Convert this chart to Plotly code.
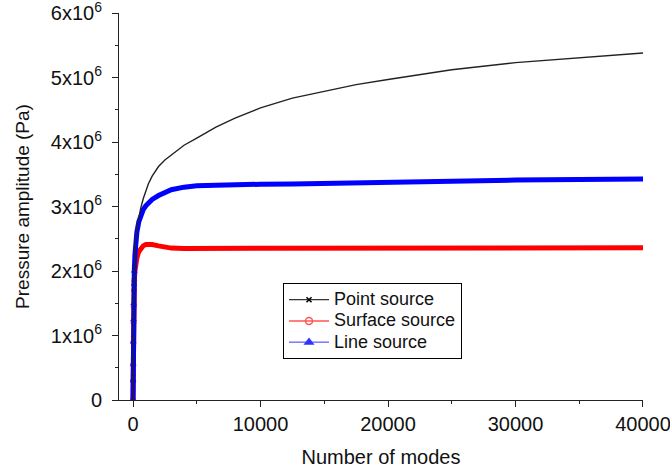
import plotly.graph_objects as go

# Number of modes (x) and pressure amplitude values (in units of 1e6 Pa)
modes = [0, 5, 10, 20, 35, 50, 75, 100, 150, 200, 300, 450, 600, 800, 1000, 1200,
         1500, 2000, 2500, 3000, 4000, 5000, 6500, 8000, 10000, 12500, 15000,
         17500, 20000, 25000, 30000, 35000, 40000]

point_source = [0, 0.35, 0.6, 0.95, 1.3, 1.55, 1.85, 2.05, 2.3, 2.48, 2.66, 2.84, 2.97,
                3.12, 3.25, 3.35, 3.47, 3.62, 3.72, 3.80, 3.95, 4.06, 4.23, 4.37, 4.53,
                4.68, 4.79, 4.89, 4.97, 5.12, 5.23, 5.31, 5.38]

surface_source = [0, 0.3, 0.55, 0.9, 1.2, 1.45, 1.7, 1.85, 2.0, 2.1, 2.2, 2.3, 2.35,
                  2.39, 2.41, 2.415, 2.41, 2.39, 2.37, 2.355, 2.35, 2.35, 2.355, 2.36,
                  2.36, 2.36, 2.36, 2.36, 2.36, 2.36, 2.36, 2.36, 2.36]

line_source = [0, 0.3, 0.55, 0.9, 1.25, 1.5, 1.8, 2.0, 2.25, 2.42, 2.6, 2.76, 2.86,
               2.95, 3.01, 3.05, 3.11, 3.17, 3.22, 3.26, 3.30, 3.32, 3.33, 3.34, 3.345,
               3.35, 3.36, 3.37, 3.38, 3.395, 3.41, 3.42, 3.425]

series_names = ["Point source", "Surface source", "Line source"]
y_tick_vals = [0, 1, 2, 3, 4, 5, 6]
y_tick_text = ["0"] + [f"{v}x10<sup>6</sup>" for v in y_tick_vals[1:]]
x_tick_vals = [0, 10000, 20000, 30000, 40000]

SCALE = 1e6
FONT = "Liberation Sans, Arial, sans-serif"

fig = go.Figure()

styles = [
    dict(color="#222222", width=1.4, symbol="x-thin", msize=4),
    dict(color="#ff0000", width=5, symbol="circle-open", msize=5),
    dict(color="#0000ff", width=5, symbol="triangle-up", msize=5),
]
data = [point_source, surface_source, line_source]

# Draw order: red, blue, black on top
for idx in [1, 2, 0]:
    st = styles[idx]
    sizes = [st["msize"] if m <= 100 else 0 for m in modes]
    fig.add_trace(go.Scatter(
        x=modes, y=[v * SCALE for v in data[idx]],
        mode="lines+markers", showlegend=False,
        line=dict(color=st["color"], width=st["width"]),
        marker=dict(symbol=st["symbol"], size=sizes, color=st["color"],
                    line=dict(color=st["color"], width=1)),
        name=series_names[idx],
    ))

# Legend entries (thin sample lines as in the original legend)
leg_styles = [
    dict(color="#000000", symbol="x-thin", size=5, lw=1),
    dict(color="#ff5555", symbol="circle-open", size=7, lw=1.5),
    dict(color="#3333ff", symbol="triangle-up", size=7, lw=1),
]
for name, st in zip(series_names, leg_styles):
    fig.add_trace(go.Scatter(
        x=[None], y=[None], mode="lines+markers",
        name=f'<span style="font-size:18px">{name}</span>',
        line=dict(color=st["color"], width=st["lw"]),
        marker=dict(symbol=st["symbol"], size=st["size"], color=st["color"],
                    line=dict(color=st["color"], width=1.5)),
    ))

fig.update_layout(
    width=670, height=471,
    margin=dict(l=119, r=27, t=13, b=71, autoexpand=False),
    paper_bgcolor="white", plot_bgcolor="white",
    font=dict(family=FONT, size=19, color="#111111"),
    legend=dict(
        x=0.313, y=0.302, xanchor="left", yanchor="top",
        bgcolor="white", bordercolor="#000000", borderwidth=1,
        font=dict(size=14, family=FONT, color="#111111"),
        tracegroupgap=0, itemwidth=40,
    ),
    xaxis=dict(
        range=[-1100, 40001], tickvals=x_tick_vals,
        ticktext=[str(v) for v in x_tick_vals], automargin=False,
        ticklabeloverflow="allow",
        showgrid=False, zeroline=False, showline=True, linecolor="#222222", linewidth=1,
        ticks="outside", ticklen=6, tickcolor="#222222", tickwidth=1,
        minor=dict(dtick=5000, tick0=0, ticks="outside", ticklen=3, tickcolor="#222222"),
        tickfont=dict(size=20),
        title=dict(text="Number of modes", font=dict(size=20)),
    ),
    yaxis=dict(
        range=[0, 6.0001e6], tickvals=[v * SCALE for v in y_tick_vals], ticktext=y_tick_text,
        automargin=False, ticklabeloverflow="allow", ticklabelstandoff=6,
        showgrid=False, zeroline=False, showline=True, linecolor="#222222", linewidth=1,
        ticks="outside", ticklen=6, tickcolor="#222222", tickwidth=1,
        minor=dict(dtick=0.5e6, tick0=0, ticks="outside", ticklen=3, tickcolor="#222222"),
        tickfont=dict(size=20),
        title=dict(text="Pressure amplitude (Pa)", font=dict(size=19), standoff=16),
    ),
)

fig.write_html("out.html", config={"displayModeBar": False},
               post_script="document.body.style.margin='0px';")
